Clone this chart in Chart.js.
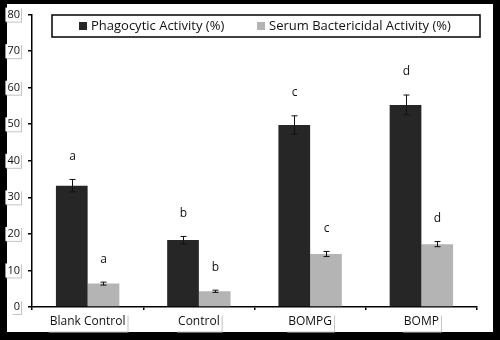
<!DOCTYPE html>
<html>
<head>
<meta charset="utf-8">
<script src="https://cdn.jsdelivr.net/npm/chart.js@4.4.1/dist/chart.umd.min.js"></script>
<style>
  html, body { margin: 0; padding: 0; background: #000; }
  #wrap { width: 500px; height: 340px; }
</style>
</head>
<body>
<div id="wrap"><canvas id="chart" width="500" height="340"></canvas></div>
<script>
// data
const categories = ['Blank Control', 'Control', 'BOMPG', 'BOMP'];
const yTicks = [0, 10, 20, 30, 40, 50, 60, 70, 80];
const phagocytic = [33.2, 18.3, 49.8, 55.3];
const phagocyticErr = [1.7, 1.0, 2.5, 2.7];
const phagocyticLetters = ['a', 'b', 'c', 'd'];
const serum = [6.4, 4.3, 14.5, 17.2];
const serumErr = [0.4, 0.3, 0.7, 0.7];
const serumLetters = ['a', 'b', 'c', 'd'];

const FONT = '"Open Sans", "Liberation Sans", sans-serif';
const DARK = '#262626';
const LIGHT = '#b4b4b4';

// black frame + white panel, plus the little shadowed boxes behind tick labels
const framePlugin = {
  id: 'frame',
  beforeDraw(chart) {
    const c = chart.ctx;
    c.save();
    c.fillStyle = '#000';
    c.fillRect(0, 0, chart.width, chart.height);
    c.fillStyle = '#fff';
    c.fillRect(7, 4, 486, 328);

    const box = (cx, cy, w, h) => {
      c.fillStyle = '#c4c4c4';
      c.fillRect(cx - w / 2 + 1, cy - h / 2 + 1, w, h);
      c.fillStyle = '#fff';
      c.fillRect(cx - w / 2, cy - h / 2, w, h);
    };
    const xs = chart.scales.x, ys = chart.scales.y;
    c.font = '12px ' + FONT;
    categories.forEach((lab, i) => {
      const w = c.measureText(lab).width + 4;
      box(xs.getPixelForTick(i), xs.top + 16, w, 17);
    });
    c.font = '11px ' + FONT;
    yTicks.forEach(v => {
      const w = c.measureText(String(v)).width + 3;
      box(20 - w / 2 + 1, ys.getPixelForValue(v), w, 14);
    });
    c.restore();
  }
};

// error bars and significance letters
const errorPlugin = {
  id: 'errors',
  afterDatasetsDraw(chart) {
    const c = chart.ctx;
    const y = chart.scales.y;
    const sets = [
      { err: phagocyticErr, letters: phagocyticLetters },
      { err: serumErr, letters: serumLetters }
    ];
    c.save();
    sets.forEach((s, di) => {
      const meta = chart.getDatasetMeta(di);
      const vals = chart.data.datasets[di].data;
      meta.data.forEach((bar, i) => {
        const x = Math.round(bar.x) + 0.5;
        const top = y.getPixelForValue(vals[i] + s.err[i]);
        const bot = y.getPixelForValue(vals[i] - s.err[i]);
        c.strokeStyle = '#111';
        c.lineWidth = 1;
        c.beginPath();
        c.moveTo(x, top); c.lineTo(x, bot);
        c.moveTo(x - 3, top); c.lineTo(x + 3, top);
        c.moveTo(x - 3, bot); c.lineTo(x + 3, bot);
        c.stroke();
        c.fillStyle = '#111';
        c.font = '12px ' + FONT;
        c.textAlign = 'center';
        c.textBaseline = 'middle';
        c.fillText(s.letters[i], x, top - 23);
      });
    });
    c.restore();
  }
};

// boxed legend inside the plot
const legendPlugin = {
  id: 'boxLegend',
  afterDraw(chart) {
    const c = chart.ctx;
    const left = 52, right = 480, top = 15, bottom = 37;
    const mid = (top + bottom) / 2;
    c.save();
    c.fillStyle = '#fff';
    c.fillRect(left, top, right - left, bottom - top);
    c.strokeStyle = '#000';
    c.lineWidth = 1.5;
    c.strokeRect(left, top, right - left, bottom - top);
    c.font = '13px ' + FONT;
    c.textBaseline = 'middle';
    c.textAlign = 'left';
    const items = [
      { x: 79, ds: chart.data.datasets[0] },
      { x: 257, ds: chart.data.datasets[1] }
    ];
    items.forEach(it => {
      c.fillStyle = it.ds.backgroundColor;
      c.fillRect(it.x, mid - 4, 8, 8);
      c.fillStyle = '#111';
      c.fillText(it.ds.label, it.x + 12, mid + 0.5);
    });
    c.restore();
  }
};

new Chart(document.getElementById('chart'), {
  type: 'bar',
  data: {
    labels: categories,
    datasets: [
      { label: 'Phagocytic Activity (%)', data: phagocytic, backgroundColor: DARK },
      { label: 'Serum Bactericidal Activity (%)', data: serum, backgroundColor: LIGHT }
    ]
  },
  options: {
    responsive: false,
    animation: false,
    devicePixelRatio: 1,
    layout: { padding: { left: 7, right: 23, top: 11, bottom: 8 } },
    datasets: { bar: { categoryPercentage: 0.57, barPercentage: 1.0 } },
    plugins: { legend: { display: false }, tooltip: { enabled: false } },
    scales: {
      x: {
        afterFit: s => { s.height = 25; },
        grid: { display: true, drawOnChartArea: false, drawTicks: true, tickLength: 3, color: '#000', lineWidth: 1.5 },
        border: { display: true, color: '#000', width: 1.5 },
        ticks: { color: '#111', font: { family: FONT, size: 12 }, padding: 4 }
      },
      y: {
        min: 0,
        max: 80,
        afterFit: s => { s.width = 25; },
        afterBuildTicks: s => { s.ticks = yTicks.map(v => ({ value: v })); },
        grid: { display: true, drawOnChartArea: false, drawTicks: true, tickLength: 4, color: '#000', lineWidth: 1.5 },
        border: { display: true, color: '#000', width: 1.5 },
        ticks: { color: '#111', font: { family: FONT, size: 11 }, padding: 8 }
      }
    }
  },
  plugins: [framePlugin, errorPlugin, legendPlugin]
});
</script>
</body>
</html>
